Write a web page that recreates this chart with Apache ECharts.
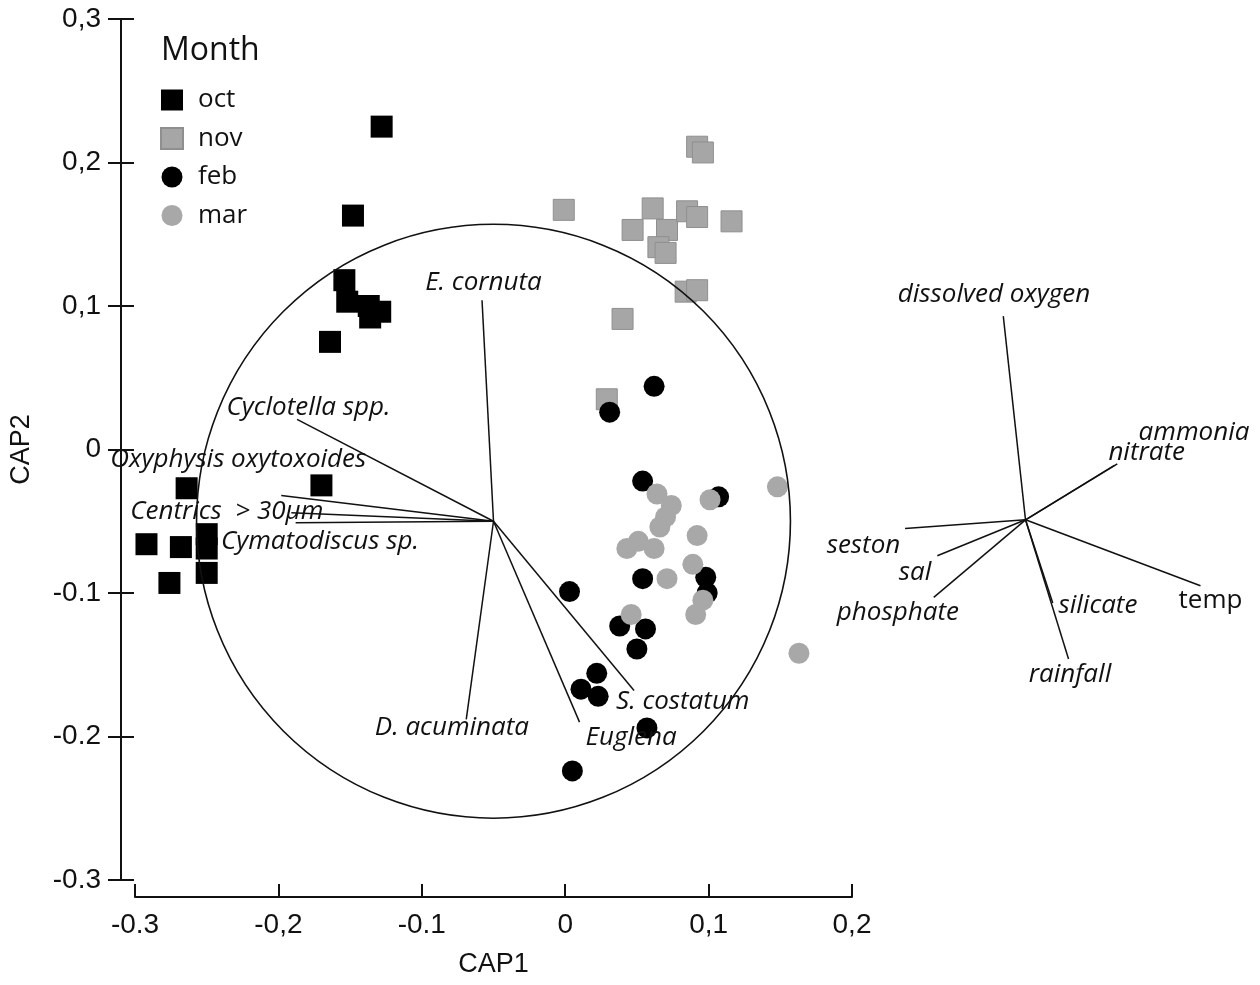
<!DOCTYPE html>
<html lang="en">
<head>
    <meta charset="UTF-8">
    <title>CAP ordination</title>
    <style>
        * { margin: 0; padding: 0; }
        body { background: #fff; }
        #chart { width: 1260px; height: 985px; }
    </style>
</head>
<body>
    <div id="chart"></div>
    <script src="https://cdn.jsdelivr.net/npm/echarts@6/dist/echarts.min.js"></script>
    <script>
        // sample scores (CAP1, CAP2) per month
        const octPts = [
            [-0.128, 0.225], [-0.148, 0.163], [-0.154, 0.118], [-0.152, 0.103],
            [-0.137, 0.100], [-0.129, 0.096], [-0.136, 0.092], [-0.164, 0.075],
            [-0.264, -0.027], [-0.170, -0.025], [-0.292, -0.066], [-0.268, -0.068],
            [-0.250, -0.059], [-0.250, -0.069], [-0.250, -0.086], [-0.276, -0.093]
        ];
        const novPts = [
            [-0.001, 0.167], [0.047, 0.153], [0.061, 0.168], [0.071, 0.153],
            [0.065, 0.141], [0.070, 0.137], [0.085, 0.166], [0.092, 0.162],
            [0.092, 0.211], [0.096, 0.207], [0.116, 0.159], [0.084, 0.110],
            [0.092, 0.111], [0.040, 0.091], [0.029, 0.035]
        ];
        const febPts = [
            [0.062, 0.044], [0.031, 0.026], [0.054, -0.022], [0.107, -0.033],
            [0.054, -0.090], [0.098, -0.089], [0.099, -0.100], [0.003, -0.099],
            [0.038, -0.123], [0.056, -0.125], [0.050, -0.139], [0.022, -0.156],
            [0.011, -0.167], [0.023, -0.172], [0.057, -0.194], [0.005, -0.224]
        ];
        const marPts = [
            [0.064, -0.031], [0.074, -0.039], [0.070, -0.047], [0.066, -0.054],
            [0.043, -0.069], [0.051, -0.064], [0.062, -0.069], [0.101, -0.035],
            [0.148, -0.026], [0.092, -0.060], [0.089, -0.080], [0.071, -0.090],
            [0.096, -0.105], [0.091, -0.115], [0.046, -0.115], [0.163, -0.142]
        ];

        // species vectors
        const speciesOrigin = [-0.05, -0.05];
        const speciesNames = ['E. cornuta', 'Cyclotella spp.', 'Oxyphysis oxytoxoides', 'Centrics  > 30\u00b5m',
            'Cymatodiscus sp.', 'D. acuminata', 'Euglena', 'S. costatum'];
        const speciesEnds = [
            [-0.058, 0.104], [-0.187, 0.021], [-0.198, -0.032], [-0.191, -0.044],
            [-0.188, -0.051], [-0.069, -0.188], [0.010, -0.190], [0.048, -0.168]
        ];
        const speciesLabelAt = [
            [-0.057, 0.116], [-0.179, 0.029], [-0.228, -0.007], [-0.236, -0.043],
            [-0.171, -0.064], [-0.079, -0.194], [0.046, -0.201], [0.082, -0.176]
        ];

        // environmental vectors
        const envOrigin = [0.321, -0.049];
        const envNames = ['dissolved oxygen', 'ammonia', 'nitrate', 'seston', 'sal',
            'phosphate', 'silicate', 'rainfall', 'temp'];
        const envEnds = [
            [0.3055, 0.093], [0.385, -0.010], [0.383, -0.011], [0.237, -0.055], [0.2595, -0.074],
            [0.257, -0.103], [0.340, -0.107], [0.351, -0.146], [0.443, -0.095]
        ];
        const envLabelAt = [
            [0.299, 0.108], [0.4385, 0.012], [0.4055, -0.002], [0.208, -0.067], [0.244, -0.086],
            [0.232, -0.114], [0.3715, -0.109], [0.352, -0.157], [0.450, -0.105]
        ];
        const envItalic = [true, true, true, true, true, true, true, true, false];

        const circle = [[-0.05, -0.05, 0.207]];

        const xTickLabels = { '-3': '-0.3', '-2': '-0,2', '-1': '-0.1', '0': '0', '1': '0,1', '2': '0,2' };
        const yTickLabels = { '-3': '-0.3', '-2': '-0.2', '-1': '-0.1', '0': '0', '1': '0,1', '2': '0,2', '3': '0,3' };

        const labelFont = '"Open Sans", "Noto Sans", sans-serif';
        const axisFont = '"Liberation Sans", Arial, sans-serif';

        let myChart = echarts.init(document.getElementById('chart'));

        function vectorSeries(origin, ends, names, labelAt, italic, z) {
            return {
                type: 'custom',
                z: z,
                clip: false,
                silent: true,
                data: ends.map(function (e, i) {
                    return [origin[0], origin[1], e[0], e[1], labelAt[i][0], labelAt[i][1]];
                }),
                renderItem: function (params, api) {
                    const a = api.coord([api.value(0), api.value(1)]);
                    const b = api.coord([api.value(2), api.value(3)]);
                    const t = api.coord([api.value(4), api.value(5)]);
                    const i = params.dataIndex;
                    return {
                        type: 'group',
                        children: [{
                            type: 'line',
                            shape: { x1: a[0], y1: a[1], x2: b[0], y2: b[1] },
                            style: { stroke: '#111', lineWidth: 1.5 }
                        }, {
                            type: 'text',
                            x: t[0],
                            y: t[1],
                            style: {
                                text: names[i],
                                fill: '#111',
                                fontSize: 26,
                                fontFamily: labelFont,
                                fontStyle: italic[i] ? 'italic' : 'normal',
                                align: 'center',
                                verticalAlign: 'middle'
                            }
                        }]
                    };
                }
            };
        }

        const tickStyle = { color: '#111', width: 2 };

        let option = {
            backgroundColor: '#fff',
            animation: false,
            title: {
                text: 'Month',
                left: 161,
                top: 35,
                padding: 0,
                textStyle: { fontFamily: labelFont, fontSize: 32, fontWeight: 'normal', color: '#111' }
            },
            legend: {
                orient: 'vertical',
                left: 160,
                top: 87,
                padding: 0,
                itemWidth: 22,
                itemHeight: 21,
                itemGap: 12.5,
                data: ['oct', 'nov', 'feb', 'mar'],
                textStyle: { fontFamily: labelFont, fontSize: 26, color: '#111', padding: [0, 0, 0, 10] }
            },
            grid: { left: 135, top: 19, width: 717, height: 861 },
            xAxis: {
                type: 'value',
                min: -0.3,
                max: 0.2,
                interval: 0.1,
                offset: 17,
                name: 'CAP1',
                nameLocation: 'middle',
                nameGap: 54,
                nameTextStyle: { fontFamily: axisFont, fontSize: 27, color: '#111' },
                splitLine: { show: false },
                axisLine: { onZero: false, lineStyle: tickStyle },
                axisTick: { inside: true, length: 13, lineStyle: tickStyle },
                axisLabel: {
                    margin: 14,
                    fontFamily: axisFont,
                    fontSize: 28,
                    color: '#111',
                    formatter: function (v) { return xTickLabels[Math.round(v * 10)]; }
                }
            },
            yAxis: [{
                type: 'value',
                position: 'left',
                min: -0.3,
                max: 0.3,
                interval: 0.1,
                offset: 14,
                name: 'CAP2',
                nameLocation: 'middle',
                nameGap: 86,
                nameTextStyle: { fontFamily: axisFont, fontSize: 27, color: '#111' },
                splitLine: { show: false },
                axisLine: { onZero: false, lineStyle: tickStyle },
                axisTick: { length: 13, lineStyle: tickStyle },
                axisLabel: {
                    margin: 20,
                    fontFamily: axisFont,
                    fontSize: 28,
                    color: '#111',
                    formatter: function (v) { return yTickLabels[Math.round(v * 10)]; }
                }
            }, {
                // second copy only to draw the inner half of the crossing ticks
                type: 'value',
                position: 'left',
                min: -0.3,
                max: 0.3,
                interval: 0.1,
                offset: 14,
                splitLine: { show: false },
                axisLine: { show: false, onZero: false },
                axisLabel: { show: false },
                axisTick: { inside: true, length: 13, lineStyle: tickStyle }
            }],
            series: [{
                name: 'oct',
                type: 'scatter',
                symbol: 'rect',
                symbolSize: 22,
                itemStyle: { color: '#000', opacity: 1 },
                data: octPts
            }, {
                name: 'nov',
                type: 'scatter',
                symbol: 'rect',
                symbolSize: 21,
                itemStyle: { color: '#a6a6a6', borderColor: '#8f8f8f', borderWidth: 1, opacity: 1 },
                data: novPts
            }, {
                name: 'feb',
                type: 'scatter',
                symbol: 'circle',
                symbolSize: 21,
                itemStyle: { color: '#000', opacity: 1 },
                data: febPts
            }, {
                name: 'mar',
                type: 'scatter',
                symbol: 'circle',
                symbolSize: 21,
                itemStyle: { color: '#a8a8a8', opacity: 1 },
                data: marPts
            }, {
                type: 'custom',
                z: 5,
                silent: true,
                clip: false,
                data: circle,
                renderItem: function (params, api) {
                    const c = api.coord([api.value(0), api.value(1)]);
                    const r = api.size([api.value(2), api.value(2)]);
                    return {
                        type: 'circle',
                        shape: { cx: c[0], cy: c[1], r: (r[0] + r[1]) / 2 },
                        style: { fill: 'none', stroke: '#111', lineWidth: 1.6 }
                    };
                }
            },
            vectorSeries(speciesOrigin, speciesEnds, speciesNames, speciesLabelAt,
                speciesNames.map(function () { return true; }), 6),
            vectorSeries(envOrigin, envEnds, envNames, envLabelAt, envItalic, 6)
            ]
        };
        myChart.setOption(option, true);
    </script>
</body>
</html>
